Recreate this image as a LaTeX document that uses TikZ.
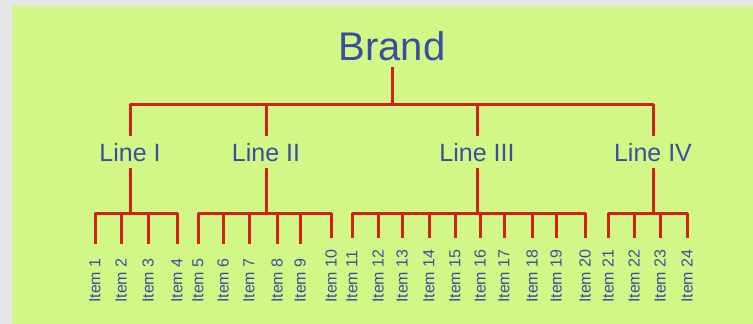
\documentclass[tikz,border=0pt]{standalone}
\usepackage{fontspec}
\setmainfont{Liberation Sans}
\definecolor{bggray}{RGB}{230,230,230}
\definecolor{panel}{RGB}{209,247,134}
\definecolor{txtblue}{RGB}{58,78,160}
\definecolor{linkred}{RGB}{212,32,24}
\tikzset{
  link/.style={draw=linkred, line width=3pt, line join=round, line cap=butt},
  brandlbl/.style={text=txtblue, font=\fontsize{40}{48}\selectfont, inner sep=6pt, anchor=base},
  linelbl/.style={text=txtblue, font=\fontsize{25}{30}\selectfont, inner sep=7pt, anchor=base},
  itemlbl/.style={text=txtblue, font=\fontsize{16}{19}\selectfont, inner sep=0pt, rotate=90, anchor=west},
}
\begin{document}
\begin{tikzpicture}[x=1pt, y=-1pt]
\useasboundingbox (0,0) rectangle (753,324);
\fill[bggray] (0,0) rectangle (753,324);
\fill[panel] (12,6) rectangle (753,324);

\node[brandlbl] (brand) at (392,60) {Brand};
\node[linelbl] (L1) at (130,161) {Line I};
\node[linelbl] (L2) at (266,161) {Line II};
\node[linelbl] (L3) at (477,161) {Line III};
\node[linelbl] (L4) at (653,161) {Line IV};

\coordinate (top) at (0,104);
\coordinate (bar) at (0,213);

% items
\foreach \i/\x in {1/95,2/121,3/148,4/177,5/198,6/223,7/249,8/277,9/300,10/331,
                   11/352,12/378,13/402,14/429,15/455,16/480,17/504,18/532,19/556,20/585,
                   21/608,22/634,23/660,24/687}{
  \node[itemlbl] (it\i) at (\x,303) {Item \i};
}
\foreach \i/\x in {1/95,2/121,3/148,4/177,5/198,6/223,7/249,8/277,9/300}{
  \coordinate (d\i) at (\x,244);
}
\foreach \i/\x in {10/331,11/352,12/378,13/402,14/429,15/455,16/480,17/504,18/532,19/556,20/585,
                   21/608,22/634,23/660,24/687}{
  \coordinate (d\i) at (\x,238);
}

% top level
\draw[link] (brand.south) -- (brand.south |- top);
\draw[link] (L1.north) |- (L4.north |- top) -- (L4.north);
\draw[link] (L2.north) -- (L2.north |- top);
\draw[link] (L3.north) -- (L3.north |- top);

% line stems
\foreach \n in {1,2,3,4}{
  \draw[link] (L\n.south) -- (L\n.south |- bar);
}

% group bars
\draw[link] (d1) |- (d4 |- bar) -- (d4);
\draw[link] (d5) |- (d10 |- bar) -- (d10);
\draw[link] (d11) |- (d20 |- bar) -- (d20);
\draw[link] (d21) |- (d24 |- bar) -- (d24);

\foreach \i in {2,3,6,7,8,9,12,13,14,15,16,17,18,19,22,23}{
  \draw[link] (d\i) -- (d\i |- bar);
}
\end{tikzpicture}
\end{document}
